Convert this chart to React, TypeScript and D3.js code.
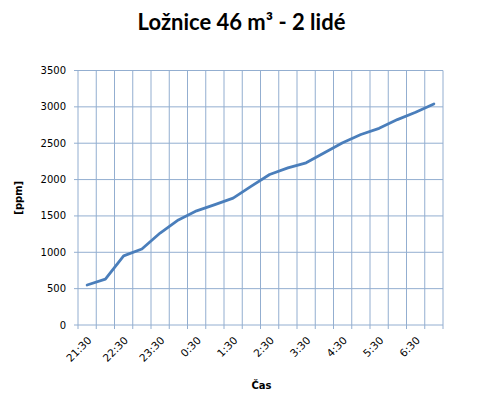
import React from "react";
import * as d3 from "d3";

const categories = [
  "21:30", "22:00", "22:30", "23:00", "23:30", "0:00", "0:30", "1:00", "1:30", "2:00",
  "2:30", "3:00", "3:30", "4:00", "4:30", "5:00", "5:30", "6:00", "6:30", "7:00",
];
const ppmValues = [
  550, 630, 950, 1045, 1265, 1445, 1570, 1655, 1745, 1910,
  2070, 2160, 2230, 2370, 2505, 2620, 2705, 2825, 2925, 3040,
];
const yTicks = [0, 500, 1000, 1500, 2000, 2500, 3000, 3500];
const shownLabels = ["21:30", "22:30", "23:30", "0:30", "1:30", "2:30", "3:30", "4:30", "5:30", "6:30"];
const title = "Ložnice 46 m³ - 2 lidé";
const xTitle = "Čas";
const yTitle = "[ppm]";

const W = 485;
const H = 398;
const left = 78;
const right = 443;
const top = 70.5;
const bottom = 325;
const grid = "#93AED0";
const lineColor = "#4A7EBB";
const tickFont = "'DejaVu Sans', sans-serif";

export default function App() {
  const x = d3.scaleBand<string>().domain(categories).range([left, right]).padding(0);
  const y = d3.scaleLinear().domain([0, 3500]).range([bottom, top]);
  const bw = x.bandwidth();
  const line = d3
    .line<number>()
    .x((_, i) => (x(categories[i]) as number) + bw / 2)
    .y((d) => y(d))
    .curve(d3.curveLinear);
  const boundaries = categories.map((c) => x(c) as number).concat([right]);

  return (
    <svg
      width={W}
      height={H}
      style={{ position: "absolute", left: 0, top: 0, background: "#fff" }}
    >
      <rect x={0} y={0} width={W} height={H} fill="#fff" />
      <text
        x={241.5}
        y={30}
        textAnchor="middle"
        fontFamily="Lato, sans-serif"
        fontWeight="bold"
        fontSize={22}
        fill="#000"
      >
        {title}
      </text>
      {yTicks.map((t) => (
        <line key={"h" + t} x1={left - 4} x2={right} y1={y(t)} y2={y(t)} stroke={grid} strokeWidth={1} />
      ))}
      {boundaries.map((b, i) => (
        <line key={"v" + i} x1={b} x2={b} y1={top} y2={bottom + 4} stroke={grid} strokeWidth={1} />
      ))}
      {yTicks.map((t) => (
        <text
          key={"yl" + t}
          x={66}
          y={y(t) + 3.5}
          textAnchor="end"
          fontFamily={tickFont}
          fontSize={10}
          fill="#000"
        >
          {t}
        </text>
      ))}
      {shownLabels.map((c) => {
        const cx = (x(c) as number) + bw / 2;
        return (
          <text
            key={"xl" + c}
            transform={`translate(${cx + 5},${341}) rotate(-45)`}
            textAnchor="end"
            fontFamily={tickFont}
            fontSize={10.5}
            fill="#000"
          >
            {c}
          </text>
        );
      })}
      <path d={line(ppmValues) || ""} fill="none" stroke={lineColor} strokeWidth={2.8} strokeLinejoin="round" strokeLinecap="round" />
      <text
        x={(left + right) / 2 + 1}
        y={389}
        textAnchor="middle"
        fontFamily={tickFont}
        fontWeight="bold"
        fontSize={10}
        fill="#000"
      >
        {xTitle}
      </text>
      <text
        transform={`translate(${22},${(top + bottom) / 2}) rotate(-90)`}
        textAnchor="middle"
        fontFamily={tickFont}
        fontWeight="bold"
        fontSize={10}
        fill="#000"
      >
        {yTitle}
      </text>
    </svg>
  );
}
